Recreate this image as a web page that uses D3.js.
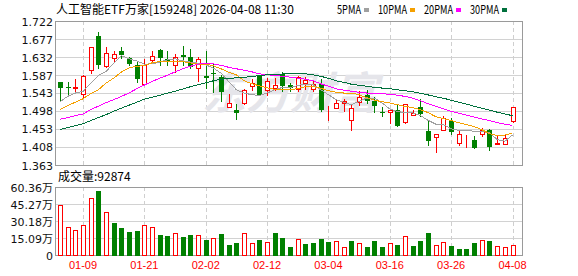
<!DOCTYPE html>
<html>
<head>
<meta charset="utf-8">
<script src="https://cdn.jsdelivr.net/npm/d3@7"></script>
<style>
  body { margin: 0; background: #fff; }
  svg { display: block; }
</style>
</head>
<body>
<svg id="chart"></svg>
<script>
// trading days shown (MM-DD)
const dates = ['01-06','01-07','01-08','01-09','01-12','01-13','01-14','01-15','01-16','01-19',
  '01-20','01-21','01-22','01-23','01-26','01-27','01-28','01-29','01-30','02-02',
  '02-03','02-04','02-05','02-06','02-09','02-10','02-11','02-12','02-13','02-24',
  '02-25','02-26','02-27','03-02','03-03','03-04','03-05','03-06','03-09','03-10',
  '03-11','03-12','03-13','03-16','03-17','03-18','03-19','03-20','03-23','03-24',
  '03-25','03-26','03-27','03-30','03-31','04-01','04-02','04-03','04-07','04-08']
const tickDates = ['01-09','01-21','02-02','02-12','03-04','03-16','03-26','04-08']

const open  = [1.5697,1.5585,1.5548,1.5400,1.6003,1.6847,1.6095,1.6293,1.6475,1.6293,
  1.6120,1.5648,1.6244,1.6500,1.6269,1.6127,1.6375,1.6326,1.6060,1.5854,
  1.5936,1.5822,1.5076,1.5002,1.5176,1.5588,1.5861,1.5506,1.5560,1.5896,
  1.5623,1.5523,1.5672,1.5530,1.5655,1.4795,1.5051,1.5176,1.4744,1.5200,
  1.5364,1.5215,1.4960,1.4952,1.5010,1.4694,1.4885,1.5076,1.4470,1.4331,
  1.4512,1.4719,1.4182,1.4320,1.4264,1.4413,1.4513,1.4160,1.4157,1.4719]
const high  = [1.5710,1.5710,1.5780,1.5870,1.6570,1.6940,1.6567,1.6475,1.6567,1.6320,
  1.6194,1.6269,1.6482,1.6510,1.6475,1.6393,1.6606,1.6524,1.6333,1.6475,
  1.6170,1.5879,1.5400,1.5150,1.5520,1.5780,1.5880,1.5797,1.5797,1.5960,
  1.5680,1.5861,1.5836,1.5712,1.5772,1.5091,1.5283,1.5283,1.5158,1.5464,
  1.5506,1.5325,1.5076,1.5020,1.5134,1.5160,1.5010,1.5275,1.4760,1.4410,
  1.4860,1.4803,1.4495,1.4388,1.4364,1.4545,1.4525,1.4346,1.4388,1.5080]
const low   = [1.5233,1.5380,1.5464,1.5315,1.5936,1.6045,1.6080,1.6226,1.6293,1.6130,
  1.5697,1.5640,1.6209,1.6127,1.6127,1.5946,1.6127,1.6045,1.5730,1.5548,
  1.5449,1.5215,1.5070,1.4778,1.5160,1.5506,1.5370,1.5382,1.5489,1.5464,
  1.5464,1.5481,1.5530,1.5464,1.4984,1.4740,1.5040,1.4967,1.4513,1.5134,
  1.5176,1.4952,1.4864,1.4679,1.4605,1.4680,1.4868,1.4864,1.4122,1.3959,
  1.4500,1.4406,1.4122,1.4083,1.4045,1.4364,1.4016,1.4150,1.4155,1.4694]
const close = [1.5555,1.5570,1.5581,1.5860,1.6567,1.6120,1.6418,1.6393,1.6375,1.6144,
  1.5780,1.6127,1.6343,1.6293,1.6209,1.6333,1.6318,1.6085,1.6276,1.5796,
  1.5896,1.5439,1.5166,1.4927,1.5499,1.5663,1.5382,1.5719,1.5629,1.5605,
  1.5560,1.5812,1.5754,1.5649,1.5009,1.4805,1.5183,1.5215,1.5051,1.5325,
  1.5215,1.5091,1.4944,1.5010,1.4612,1.5150,1.4927,1.4902,1.4222,1.4406,
  1.4803,1.4445,1.4406,1.4335,1.4048,1.4513,1.4073,1.4168,1.4306,1.5076]
const prevClose = 1.540 // close of the day before the window

const volume = [448000,247000,218000,262000,510000,566000,386000,283000,239000,203000,
  212000,262000,247000,177000,168000,194000,159000,177000,174000,133000,
  150000,186000,88000,106000,192000,103000,133000,115000,194000,153000,
  73000,141000,100000,109000,144000,118000,124000,71000,124000,106000,
  73000,124000,73000,106000,88000,168000,82000,124000,194000,88000,
  112000,82000,53000,53000,106000,133000,124000,80000,71000,92874]

const ma5  = [1.5208,1.5340,1.5424,1.5464,1.5672,1.5861,1.5961,1.6169,1.6358,1.6276,
  1.6226,1.6144,1.6152,1.6194,1.6251,1.6276,1.6226,1.6194,1.6169,1.6127,
  1.6045,1.5921,1.5712,1.5506,1.5424,1.5382,1.5364,1.5424,1.5506,1.5563,
  1.5563,1.5613,1.5648,1.5630,1.5506,1.5382,1.5258,1.5196,1.5133,1.5215,
  1.5300,1.5300,1.5176,1.5027,1.4967,1.4927,1.4927,1.4860,1.4743,1.4649,
  1.4637,1.4530,1.4495,1.4495,1.4470,1.4470,1.4430,1.4264,1.4222,1.4380]
const ma10 = [1.5009,1.5109,1.5196,1.5282,1.5407,1.5506,1.5672,1.5797,1.5946,1.6053,
  1.6090,1.6110,1.6177,1.6209,1.6214,1.6214,1.6209,1.6177,1.6144,1.6144,
  1.6102,1.6028,1.5941,1.5879,1.5730,1.5655,1.5605,1.5556,1.5518,1.5506,
  1.5513,1.5531,1.5588,1.5581,1.5548,1.5481,1.5444,1.5424,1.5424,1.5382,
  1.5307,1.5245,1.5208,1.5176,1.5133,1.5091,1.5059,1.5009,1.4935,1.4835,
  1.4786,1.4736,1.4686,1.4637,1.4587,1.4512,1.4413,1.4363,1.4376,1.4430]
const ma20 = [1.4773,1.4811,1.4860,1.4902,1.5009,1.5096,1.5183,1.5258,1.5340,1.5424,
  1.5531,1.5623,1.5712,1.5792,1.5866,1.5953,1.6028,1.6090,1.6144,1.6169,
  1.6152,1.6115,1.6065,1.6028,1.5995,1.5953,1.5903,1.5879,1.5866,1.5841,
  1.5822,1.5797,1.5767,1.5730,1.5655,1.5593,1.5531,1.5494,1.5469,1.5444,
  1.5424,1.5412,1.5407,1.5394,1.5369,1.5340,1.5295,1.5233,1.5158,1.5096,
  1.5034,1.4967,1.4922,1.4873,1.4823,1.4778,1.4736,1.4686,1.4649,1.4619]
const ma30 = [1.4512,1.4562,1.4612,1.4661,1.4736,1.4811,1.4885,1.4972,1.5046,1.5121,
  1.5196,1.5270,1.5320,1.5369,1.5419,1.5469,1.5523,1.5581,1.5630,1.5680,
  1.5730,1.5767,1.5787,1.5804,1.5817,1.5836,1.5859,1.5879,1.5891,1.5899,
  1.5903,1.5903,1.5903,1.5879,1.5841,1.5792,1.5730,1.5692,1.5643,1.5618,
  1.5593,1.5568,1.5548,1.5531,1.5506,1.5481,1.5456,1.5419,1.5377,1.5332,
  1.5295,1.5245,1.5196,1.5146,1.5096,1.5046,1.4997,1.4947,1.4902,1.4860]

const priceTicks = [1.363,1.408,1.453,1.498,1.543,1.587,1.632,1.677,1.722]
const volTicks = [0,150900,301800,452700,603600]

const maNames = ['5PMA','10PMA','20PMA','30PMA']
const maColors = ['#a0a0a0','#f5a000','#ff00ff','#00703c']

const UP = '#ff0000', DOWN = '#008000'
const width = 578, height = 276
const left = 55, right = 522

const svg = d3.select('#chart').attr('width', width).attr('height', height)
const px = v => Math.round(v) + 0.5

const x = d3.scaleLinear().domain([0, dates.length - 1]).range([60, 512.5])
const y = d3.scaleLinear().domain([1.363, 1.722]).range([165, 21])
const yv = d3.scaleLinear().domain([0, 603600]).range([255, 187])

const tickIdx = tickDates.map(d => dates.indexOf(d))

// ---- grids
function grid (scale, ticks, top, bottom) {
  const g = svg.append('g').attr('shape-rendering', 'crispEdges')
  g.selectAll('line.h').data(ticks).join('line')
    .attr('x1', left).attr('x2', right)
    .attr('y1', d => px(scale(d))).attr('y2', d => px(scale(d)))
    .attr('stroke', '#d2d2d2')
  g.selectAll('line.v').data(tickIdx).join('line')
    .attr('x1', d => px(x(d))).attr('x2', d => px(x(d)))
    .attr('y1', top).attr('y2', bottom)
    .attr('stroke', '#cfcfcf').attr('stroke-dasharray', '4,3')
}
grid(y, priceTicks, 21, 165)
grid(yv, volTicks, 187, 255)

// watermark
svg.append('text')
  .attr('x', 290).attr('y', 109)
  .attr('text-anchor', 'middle')
  .attr('font-family', 'Noto Sans CJK SC').attr('font-weight', 'bold')
  .attr('font-style', 'italic')
  .attr('font-size', 44).attr('fill', '#e5e5ea')
  .text('东方财富')

// frames
svg.append('rect').attr('x', left + 0.5).attr('y', 21.5).attr('width', right - left).attr('height', 144)
  .attr('fill', 'none').attr('stroke', '#9a9a9a').attr('shape-rendering', 'crispEdges')
svg.append('rect').attr('x', left + 0.5).attr('y', 187.5).attr('width', right - left).attr('height', 68)
  .attr('fill', 'none').attr('stroke', '#9a9a9a').attr('shape-rendering', 'crispEdges')

// ---- candles
const idx = d3.range(dates.length)
const candles = svg.append('g').attr('shape-rendering', 'crispEdges')
candles.selectAll('line').data(idx).join('line')
  .attr('x1', i => px(x(i))).attr('x2', i => px(x(i)))
  .attr('y1', i => Math.round(y(high[i]))).attr('y2', i => Math.round(y(low[i])) + 1)
  .attr('stroke', i => close[i] >= open[i] ? UP : DOWN)
candles.selectAll('rect').data(idx).join('rect')
  .attr('x', i => close[i] >= open[i] ? Math.round(x(i)) - 2 + 0.5 : Math.round(x(i)) - 2)
  .attr('y', i => {
    const t = Math.round(y(Math.max(open[i], close[i])))
    return close[i] >= open[i] ? t + 0.5 : t
  })
  .attr('width', i => close[i] >= open[i] ? 4 : 5)
  .attr('height', i => {
    const h = Math.round(y(Math.min(open[i], close[i]))) - Math.round(y(Math.max(open[i], close[i])))
    return close[i] >= open[i] ? Math.max(h, 0) : Math.max(h, 1)
  })
  .attr('fill', i => close[i] >= open[i] ? '#fff' : DOWN)
  .attr('stroke', i => close[i] >= open[i] ? UP : 'none')

// ---- moving averages
const line = d3.line().x((d, i) => x(i)).y(d => y(d))
;[ma5, ma10, ma20, ma30].forEach((s, k) => {
  svg.append('path').datum(s)
    .attr('d', line)
    .attr('fill', 'none')
    .attr('stroke', maColors[k])
    .attr('stroke-width', 1)
    .attr('shape-rendering', 'crispEdges')
})

// ---- volume
const volUp = i => close[i] >= (i === 0 ? prevClose : close[i - 1])
svg.append('g').attr('shape-rendering', 'crispEdges')
  .selectAll('rect').data(idx).join('rect')
  .attr('x', i => volUp(i) ? Math.round(x(i)) - 2 + 0.5 : Math.round(x(i)) - 2)
  .attr('y', i => volUp(i) ? Math.round(yv(volume[i])) + 0.5 : Math.round(yv(volume[i])))
  .attr('width', i => volUp(i) ? 4 : 5)
  .attr('height', i => volUp(i) ? 255 - Math.round(yv(volume[i])) - 0.5 : 256 - Math.round(yv(volume[i])))
  .attr('fill', i => volUp(i) ? '#fff' : DOWN)
  .attr('stroke', i => volUp(i) ? UP : 'none')

// ---- axis labels
svg.append('g').selectAll('text').data(priceTicks).join('text')
  .attr('x', 53).attr('y', d => y(d) + 4.5)
  .attr('text-anchor', 'end')
  .attr('font-family', 'DejaVu Sans').attr('font-size', 11).attr('fill', '#111')
  .text(d => d.toFixed(3))

svg.append('g').selectAll('text').data(volTicks).join('text')
  .attr('x', 53).attr('y', d => yv(d) + 4.5)
  .attr('text-anchor', 'end')
  .attr('font-family', 'DejaVu Sans, Noto Sans CJK SC').attr('font-size', 11).attr('fill', '#111')
  .text(d => d === 0 ? '0' : (d / 10000).toFixed(2) + '万')

svg.append('g').selectAll('text').data(tickIdx).join('text')
  .attr('x', i => x(i)).attr('y', 269)
  .attr('text-anchor', 'middle')
  .attr('font-family', 'Liberation Sans').attr('font-size', 11).attr('fill', '#ff0000')
  .text(i => dates[i])

// ---- titles & legend
svg.append('text')
  .attr('x', 56).attr('y', 14)
  .attr('font-family', 'Noto Sans CJK SC').attr('font-size', 12).attr('fill', '#000')
  .text('人工智能ETF万家[159248] 2026-04-08 11:30')

const legendX = [337, 378, 424, 470]
const legendW = [24, 29, 29, 29]
maNames.forEach((n, k) => {
  svg.append('text')
    .attr('x', legendX[k]).attr('y', 14)
    .attr('font-family', 'Noto Sans CJK SC').attr('font-size', 12).attr('fill', '#000')
    .attr('textLength', legendW[k]).attr('lengthAdjust', 'spacingAndGlyphs')
    .text(n)
  svg.append('rect')
    .attr('x', legendX[k] + legendW[k] + 3).attr('y', 8)
    .attr('width', 5).attr('height', 4)
    .attr('fill', maColors[k])
})

svg.append('text')
  .attr('x', 58).attr('y', 181)
  .attr('font-family', 'Noto Sans CJK SC').attr('font-size', 12).attr('fill', '#000')
  .text('成交量:' + volume[volume.length - 1])
</script>
</body>
</html>
